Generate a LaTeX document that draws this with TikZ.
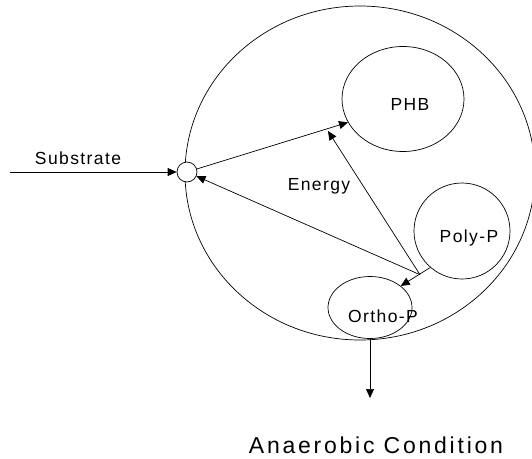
\documentclass[tikz,border=0pt]{standalone}
\usepackage{fontspec}
\setmainfont{Liberation Sans}
\newfontfamily\lblfont[LetterSpace=8]{Liberation Sans}
\newfontfamily\bigfont[LetterSpace=12]{Liberation Sans}
\usetikzlibrary{shapes.geometric,arrows.meta}
\begin{document}
\begin{tikzpicture}[x=1pt,y=-1pt,
  line width=0.7pt,
  ell/.style={draw,ellipse,inner sep=0pt},
  lbl/.style={anchor=base,inner sep=0pt,font=\lblfont\fontsize{17.5}{21}\selectfont},
  arr/.style={-{Triangle[length=9pt,width=8pt]}}]
\useasboundingbox (0,0) rectangle (532,458);
\clip (0,0) rectangle (532,458);
% shapes
\node[ell,minimum width=350pt,minimum height=334pt] (cell) at (360,173) {};
\node[draw,circle,minimum size=20pt,inner sep=0pt,fill=white] (sc) at (187,172) {};
\node[ell,minimum width=122pt,minimum height=105pt] (phb) at (403,99) {};
\node[ell,minimum width=96pt,minimum height=96pt] (poly) at (462,231) {};
\node[ell,minimum width=84pt,minimum height=62pt] (ortho) at (370,307.5) {};
% labels
\node[lbl] (tsub) at (78,164) {Substrate};
\node[lbl] (tene) at (319,190) {Energy};
\node[lbl] (tphb) at (410,110) {PHB};
\node[lbl] (tpoly) at (469,242) {Poly-P};
\node[lbl] (tortho) at (383,322) {Ortho-P};
\node[anchor=base,inner sep=0pt,font=\bigfont\fontsize{23}{27}\selectfont] (tcond) at (376,453) {Anaerobic Condition};
% coordinates
\coordinate (src) at (10,172);
\coordinate (j) at (420,274.7);
\coordinate (etip) at (328,131);
\coordinate (sink) at (370,398);
% connectors
\draw[arr] (src) -- (sc);
\draw[arr] (sc) -- (phb.203);
\draw[arr] (j) -- (etip);
\draw[arr] (j) -- (sc);
\draw[arr] (poly.229) -- (ortho.35);
\draw[arr] (ortho.south) -- (sink);
\end{tikzpicture}
\end{document}
